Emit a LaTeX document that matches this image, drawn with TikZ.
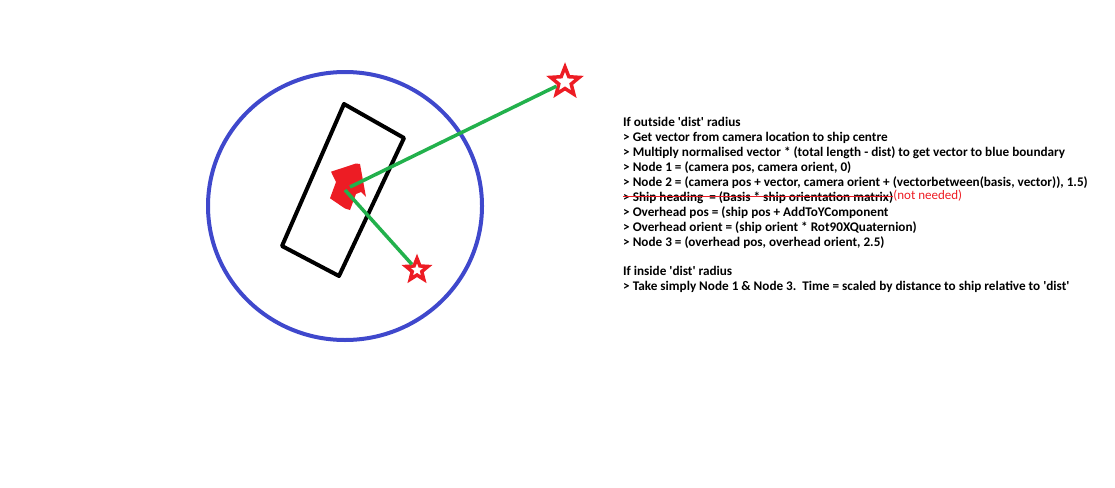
\documentclass[tikz,border=0pt]{standalone}
\usepackage{fontspec}
\setmainfont{Carlito}
\usetikzlibrary{shapes.geometric}
\definecolor{pblue}{RGB}{63,72,204}
\definecolor{pgreen}{RGB}{34,177,76}
\definecolor{pred}{RGB}{237,28,36}
\newcommand{\sq}{\textquotesingle}
\tikzset{
  txt/.style={anchor=base west, inner sep=0pt, font=\fontsize{13.2}{15}\selectfont\bfseries},
  starmark/.style={star, star points=5, star point ratio=2.3, draw=pred, line width=3.5pt, inner sep=0pt},
  conn/.style={draw=pgreen, line width=3.5pt},
}
\begin{document}
\begin{tikzpicture}[x=1pt,y=-1pt]
\useasboundingbox (0,0) rectangle (1115,487);
% blue boundary
\draw[pblue, line width=4pt] (345,206) ellipse [x radius=137, y radius=134];
% ship box
\draw[black, line width=4pt, line join=round] (344,104) -- (404,138) -- (339,276) -- (282,246) -- cycle;
% ship heading arrow
\fill[pred] (331,171.7) -- (356,163.5) -- (360,164) -- (366,197) -- (361,192) -- (356,194) -- (350,210) -- (345,208.5) -- (330,198.3) -- (336,182) -- cycle;
% stars
\node[starmark, minimum size=30pt] (s1) at (565,82) {};
\node[starmark, minimum size=23pt] (s2) at (417,270) {};
\coordinate (c1) at (350,187);
\coordinate (c2) at (345,190);
\draw[conn] (c1) -- (s1);
\draw[conn] (c2) -- (s2);
% text
\node[txt] (l1) at (623,126.5) {If outside \sq dist\sq\ radius};
\node[txt] (l2) at (623,141.5) {> Get vector from camera location to ship centre};
\node[txt] (l3) at (623,156.5) {> Multiply normalised vector * (total length - dist) to get vector to blue boundary};
\node[txt] (l4) at (623,171.5) {> Node 1 = (camera pos, camera orient, 0)};
\node[txt] (l5) at (623,186.5) {> Node 2 = (camera pos + vector, camera orient + (vectorbetween(basis, vector)), 1.5)};
\node[txt] (l6) at (623,201.5) {> Ship heading\ \ = (Basis * ship orientation matrix)};
\node[txt, font=\fontsize{13}{15}\selectfont, text=pred] (nn) at ([yshift=2pt]l6.base east) {(not needed)};
\draw[pred, line width=1.5pt] (l6.west) ++(0,-1) coordinate (sa) -- (sa -| l6.east);
\node[txt] (l7) at (623,216.5) {> Overhead pos = (ship pos + AddToYComponent};
\node[txt] (l8) at (623,231.5) {> Overhead orient = (ship orient * Rot90XQuaternion)};
\node[txt] (l9) at (623,246.5) {> Node 3 = (overhead pos, overhead orient, 2.5)};
\node[txt] (l10) at (623,275.5) {If inside \sq dist\sq\ radius};
\node[txt] (l11) at (623,290.5) {> Take simply Node 1 \& Node 3.\ \ Time = scaled by distance to ship relative to \sq dist\sq};
\end{tikzpicture}
\end{document}
